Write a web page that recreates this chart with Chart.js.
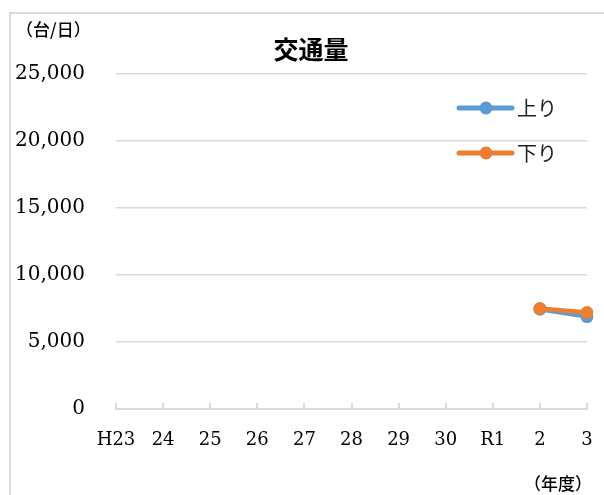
<!DOCTYPE html>
<html>
<head>
<meta charset="utf-8">
<script src="https://cdn.jsdelivr.net/npm/chart.js@4.4.1/dist/chart.umd.min.js"></script>
<style>
  html, body { margin: 0; padding: 0; background: #fff; }
  #wrap { width: 604px; height: 495px; }
</style>
</head>
<body>
<div id="wrap"><canvas id="chartTraffic" width="604" height="495"></canvas></div>
<script>
    // 年度ラベル
    const nendo = ['H23', '24', '25', '26', '27', '28', '29', '30', 'R1', '2', '3'];

    // 交通量（台/日） 令和2・3年度のみ
    const nobori = [null, null, null, null, null, null, null, null, null, 7450, 6900];
    const kudari = [null, null, null, null, null, null, null, null, null, 7500, 7200];

    // 軸の目盛り
    const yMax = 25000;
    const yStep = 5000;

    const corAzul = '#5B9BD5';
    const corLaranja = '#ED7D31';
    const fonteJp = '"Noto Sans CJK JP", "Noto Sans", sans-serif';
    const fonteNum = '"DejaVu Serif", "Liberation Serif", serif';

    // 枠・タイトル・単位・凡例・目盛り線
    const extras = {
        id: 'extras',
        beforeDraw(chart) {
            const ctx = chart.ctx;
            ctx.save();
            ctx.strokeStyle = '#d9d9d9';
            ctx.lineWidth = 2;
            ctx.strokeRect(10, 13, 640, 540);
            ctx.restore();
        },
        afterDraw(chart) {
            const ctx = chart.ctx;
            const x = chart.scales.x;
            const area = chart.chartArea;
            ctx.save();

            // x軸の短い目盛り（内向き）
            ctx.strokeStyle = '#d9d9d9';
            ctx.lineWidth = 2;
            for (let i = 0; i < nendo.length; i++) {
                const px = Math.round(x.getPixelForTick(i));
                ctx.beginPath();
                ctx.moveTo(px, area.bottom);
                ctx.lineTo(px, area.bottom - 6);
                ctx.stroke();
            }

            // タイトル
            ctx.fillStyle = '#000';
            ctx.font = 'bold 25px ' + fonteJp;
            ctx.textAlign = 'center';
            ctx.textBaseline = 'middle';
            ctx.fillText('交通量', 311, 49);

            // 単位
            ctx.font = '500 17px ' + fonteJp;
            ctx.textAlign = 'left';
            ctx.fillText('（台/日）', 16, 30);
            ctx.fillText('（年度）', 524, 484);

            // 凡例
            const items = chart.data.datasets;
            items.forEach((ds, i) => {
                const y = 108 + i * 45;
                ctx.strokeStyle = ds.borderColor;
                ctx.lineWidth = 5;
                ctx.lineCap = 'round';
                ctx.beginPath();
                ctx.moveTo(459, y);
                ctx.lineTo(512, y);
                ctx.stroke();
                ctx.fillStyle = ds.borderColor;
                ctx.beginPath();
                ctx.arc(486, y, 6.5, 0, Math.PI * 2);
                ctx.fill();
                ctx.fillStyle = '#222';
                ctx.font = '20px ' + fonteJp;
                ctx.textBaseline = 'middle';
                ctx.fillText(ds.label, 517, y);
            });
            ctx.restore();
        }
    };

    new Chart(document.getElementById('chartTraffic'), {
        type: 'line',
        data: {
            labels: nendo,
            datasets: [
                {
                    label: '上り',
                    data: nobori,
                    order: 2,
                    borderColor: corAzul,
                    backgroundColor: corAzul,
                    borderWidth: 4.5,
                    pointRadius: 6.5,
                    pointHoverRadius: 6.5,
                    pointBorderWidth: 0
                },
                {
                    label: '下り',
                    data: kudari,
                    order: 1,
                    borderColor: corLaranja,
                    backgroundColor: corLaranja,
                    borderWidth: 4.5,
                    pointRadius: 6.5,
                    pointHoverRadius: 6.5,
                    pointBorderWidth: 0
                }
            ]
        },
        options: {
            responsive: false,
            animation: false,
            events: [],
            layout: { padding: { top: 74, right: 17, left: 0, bottom: 0 } },
            plugins: {
                legend: { display: false },
                title: { display: false },
                tooltip: { enabled: false }
            },
            scales: {
                x: {
                    offset: false,
                    grid: { display: false, drawTicks: false },
                    border: { color: '#d9d9d9', width: 2 },
                    ticks: {
                        color: '#000',
                        padding: 21,
                        autoSkip: false,
                        maxRotation: 0,
                        font: { family: fonteNum, size: 18 }
                    },
                    afterFit(scale) {
                        scale.height = 86;
                        scale.paddingRight = 0;
                        scale.paddingLeft = 0;
                    }
                },
                y: {
                    min: 0,
                    max: yMax,
                    grid: {
                        color: (c) => c.tick.value === 0 ? 'rgba(0,0,0,0)' : '#d9d9d9',
                        lineWidth: 1.5,
                        drawTicks: false
                    },
                    border: { display: false },
                    ticks: {
                        stepSize: yStep,
                        color: '#000',
                        padding: 31,
                        font: { family: fonteNum, size: 20 },
                        callback: (v) => v.toLocaleString('en-US')
                    },
                    afterFit(scale) { scale.width = 116; }
                }
            }
        },
        plugins: [extras]
    });
</script>
</body>
</html>
